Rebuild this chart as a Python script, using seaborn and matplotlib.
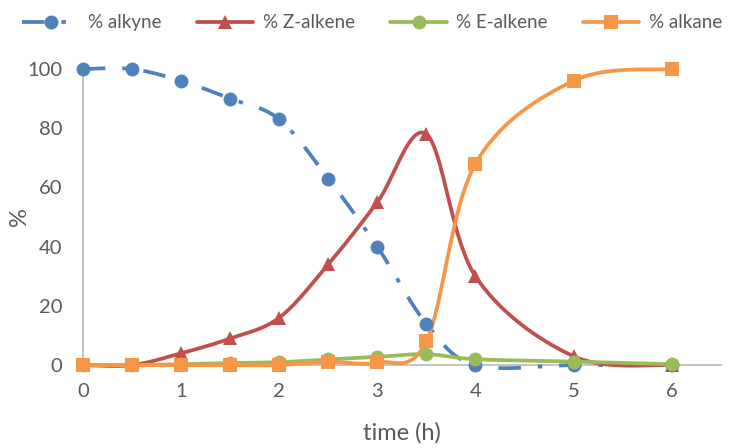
import numpy as np
import matplotlib
matplotlib.use("Agg")
import matplotlib.pyplot as plt
from matplotlib.lines import Line2D
import seaborn as sns

# Reaction time course
time_h = [0, 0.5, 1, 1.5, 2, 2.5, 3, 3.5, 4, 5, 6]
alkyne = [100, 100, 96, 90, 83, 63, 40, 14, 0, 0, 0]
z_alkene = [0, 0, 4, 9, 16, 34, 55, 78, 30, 3, 0]
e_alkene = [0, 0, 0.3, 0.7, 1, 1.9, 2.8, 3.7, 2, 1.2, 0.3]
alkane = [0, 0, 0, 0, 0, 1.1, 0.9, 8, 68, 96, 100]

series_names = ["% alkyne", "% Z-alkene", "% E-alkene", "% alkane"]
series_values = [alkyne, z_alkene, e_alkene, alkane]
colors = ["#4F81BD", "#C0504D", "#9BBB59", "#F79646"]
markers = ["o", "^", "o", "s"]
styles = [(0, (6, 4.5, 1.2, 4.5)), "-", "-", "-"]

TEXT = "#595959"
AXIS = "#BFBFBF"
LW = 2.7


def smooth_curve(x, y, n=40):
    """Cubic Bezier smoothing through every point (Catmull-Rom control points)."""
    p = np.column_stack([x, y]).astype(float)
    ext = np.vstack([p[0], p, p[-1]])
    out = []
    t = np.linspace(0, 1, n)[:, None]
    for i in range(len(p) - 1):
        p0, p1, p2, p3 = ext[i], ext[i + 1], ext[i + 2], ext[i + 3]
        c1 = p1 + (p2 - p0) / 6.0
        c2 = p2 - (p3 - p1) / 6.0
        seg = ((1 - t) ** 3) * p1 + 3 * ((1 - t) ** 2) * t * c1 \
            + 3 * (1 - t) * t ** 2 * c2 + t ** 3 * p2
        out.append(seg if i == 0 else seg[1:])
    out = np.vstack(out)
    return out[:, 0], out[:, 1]


sns.set_theme(style="white")
plt.rcParams["font.family"] = ["Lato", "DejaVu Sans"]

fig = plt.figure(figsize=(7.4, 4.48), dpi=100)
ax = fig.add_axes([0.112, 0.185, 0.862, 0.661])

for name, vals, col, mk, ls in zip(series_names, series_values, colors, markers, styles):
    sx, sy = smooth_curve(time_h, vals)
    sns.lineplot(x=sx, y=sy, ax=ax, color=col, linewidth=LW,
                 sort=False, estimator=None, clip_on=False)
    ax.lines[-1].set_linestyle(ls)
    ms = 10 if mk == "o" else 9.5
    ax.plot(time_h, vals, linestyle="none", marker=mk, markersize=ms,
            color=col, markeredgewidth=0, clip_on=False, zorder=3)

ax.set_xlim(0, 6.5)
ax.set_ylim(0, 100)
ax.set_xticks(range(0, 7))
ax.set_yticks(range(0, 101, 20))
ax.tick_params(axis="both", length=0, labelsize=14.5, labelcolor=TEXT)
ax.tick_params(axis="x", pad=13)
ax.tick_params(axis="y", pad=15)

for side in ["top", "right"]:
    ax.spines[side].set_visible(False)
for side in ["left", "bottom"]:
    ax.spines[side].set_color(AXIS)
    ax.spines[side].set_linewidth(1.3)
    ax.spines[side].set_zorder(0.5)

ax.set_xlabel("time (h)", fontsize=17, color=TEXT, labelpad=16)
ax.set_ylabel("%", fontsize=17, color=TEXT, labelpad=-2)

handles = [Line2D([0], [0], color=c, linestyle=ls, linewidth=LW, marker=m,
                  markersize=10 if m == "o" else 9.5, markeredgewidth=0)
           for c, m, ls in zip(colors, markers, styles)]
fig.legend(handles, series_names, loc="upper center", bbox_to_anchor=(0.503, 1.006),
           ncol=4, frameon=False, fontsize=13.5, labelcolor=TEXT,
           handlelength=3.0, handletextpad=0.5, columnspacing=1.9)

fig.savefig("out.png", dpi=100)
